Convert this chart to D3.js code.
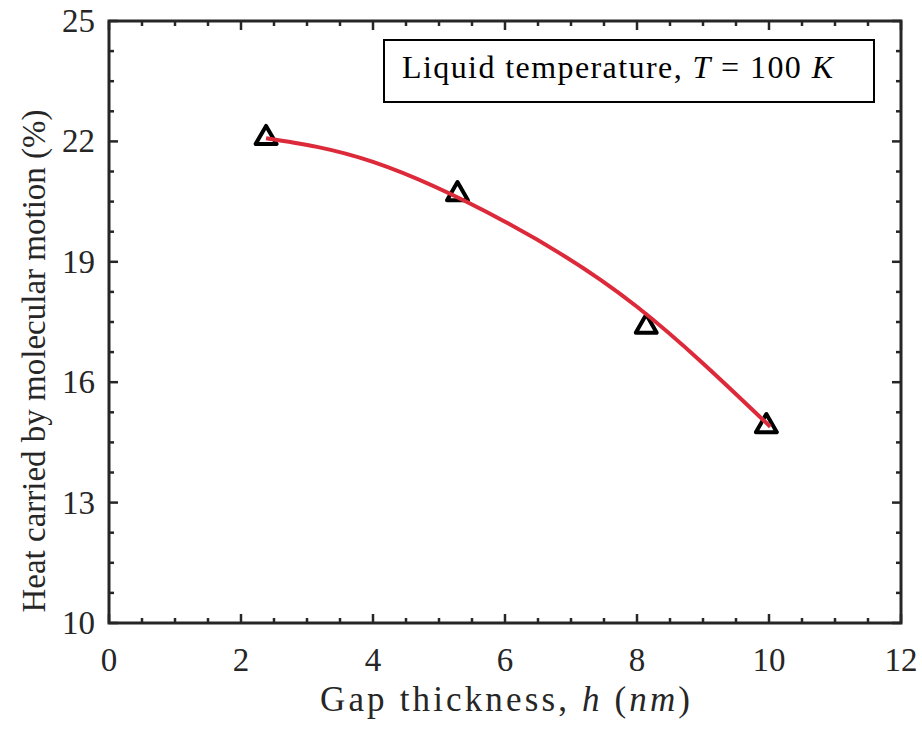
<!DOCTYPE html>
<html><head><meta charset="utf-8">
<script src="https://cdn.jsdelivr.net/npm/d3@7"></script>
<style>body{margin:0;background:#fff}svg{display:block}</style>
</head><body>
<svg id="c" width="922" height="730"></svg>
<script>
const gapThickness = [2.38, 5.28, 8.14, 9.96];
const heatPercent = [22.11, 20.71, 17.41, 14.93];
const fitX = [2.38, 4, 6, 8, 10.02];
const fitY = [22.08, 21.49, 20.0, 17.88, 14.89];
const xTicks = [0, 2, 4, 6, 8, 10, 12];
const yTicks = [10, 13, 16, 19, 22, 25];

const svg = d3.select("#c");
const L = 109, R = 901, T = 21, B = 623;
const x = d3.scaleLinear().domain([0, 12]).range([L, R]);
const y = d3.scaleLinear().domain([10, 25]).range([B, T]);
const axisColor = "#262626";
const font = "'Liberation Serif','Times New Roman',serif";

const xMinor = d3.range(0, 12.001, 0.5).filter(v => Math.abs(v % 2) > 1e-6);
const yMinor = d3.range(10, 25.001, 0.75).filter(v => Math.abs((v - 10) % 3) > 1e-6);

const g = svg.append("g");
function tickSet(vals, len, isX) {
  vals.forEach(v => {
    if (isX) {
      g.append("line").attr("x1", x(v)).attr("x2", x(v)).attr("y1", B).attr("y2", B - len);
      g.append("line").attr("x1", x(v)).attr("x2", x(v)).attr("y1", T).attr("y2", T + len);
    } else {
      g.append("line").attr("y1", y(v)).attr("y2", y(v)).attr("x1", L).attr("x2", L + len);
      g.append("line").attr("y1", y(v)).attr("y2", y(v)).attr("x1", R).attr("x2", R - len);
    }
  });
}
tickSet(xTicks, 9, true);
tickSet(xMinor, 5, true);
tickSet(yTicks, 9, false);
tickSet(yMinor, 5, false);
g.selectAll("line").attr("stroke", axisColor).attr("stroke-width", 2.5);

svg.append("rect").attr("x", L).attr("y", T).attr("width", R - L).attr("height", B - T)
  .attr("fill", "none").attr("stroke", axisColor).attr("stroke-width", 3);

svg.append("g").selectAll("text").data(xTicks).join("text")
  .attr("x", d => x(d)).attr("y", 671).attr("text-anchor", "middle")
  .attr("font-family", font).attr("font-size", 33).attr("fill", axisColor).text(d => d);
svg.append("g").selectAll("text").data(yTicks).join("text")
  .attr("x", 95).attr("y", d => y(d) + 11).attr("text-anchor", "end")
  .attr("font-family", font).attr("font-size", 33).attr("fill", axisColor).text(d => d);

const xl = svg.append("text").attr("x", 320).attr("y", 711)
  .attr("font-family", font).attr("font-size", 35).attr("fill", axisColor)
  .attr("textLength", 370).attr("lengthAdjust", "spacing");
xl.append("tspan").text("Gap thickness, ");
xl.append("tspan").attr("font-style", "italic").text("h");
xl.append("tspan").text(" (");
xl.append("tspan").attr("font-style", "italic").text("nm");
xl.append("tspan").text(")");

svg.append("text").attr("transform", `translate(45,361) rotate(-90)`)
  .attr("text-anchor", "middle").attr("font-family", font).attr("font-size", 33)
  .attr("fill", axisColor).text("Heat carried by molecular motion (%)");

const fitData = fitX.map((v, i) => [v, fitY[i]]);

const tri = d3.symbol().type(d3.symbolTriangle).size(190);
svg.append("g").selectAll("path").data(gapThickness).join("path")
  .attr("transform", (d, i) => `translate(${x(d)},${y(heatPercent[i]) + 1})`)
  .attr("d", tri).attr("fill", "none").attr("stroke", "#000").attr("stroke-width", 4)
  .attr("stroke-linejoin", "round");

svg.append("path").datum(fitData)
  .attr("d", d3.line().x(d => x(d[0])).y(d => y(d[1])).curve(d3.curveNatural))
  .attr("fill", "none").attr("stroke", "#dc2a3a").attr("stroke-width", 4);

svg.append("rect").attr("x", 384).attr("y", 40).attr("width", 490).attr("height", 62)
  .attr("fill", "#fff").attr("stroke", "#000").attr("stroke-width", 2);
const lt = svg.append("text").attr("x", 402).attr("y", 78).attr("font-family", font)
  .attr("font-size", 32).attr("fill", "#000")
  .attr("textLength", 431).attr("lengthAdjust", "spacing");
lt.append("tspan").text("Liquid temperature, ");
lt.append("tspan").attr("font-style", "italic").text("T");
lt.append("tspan").text(" = 100 ");
lt.append("tspan").attr("font-style", "italic").text("K");
</script>
</body></html>
